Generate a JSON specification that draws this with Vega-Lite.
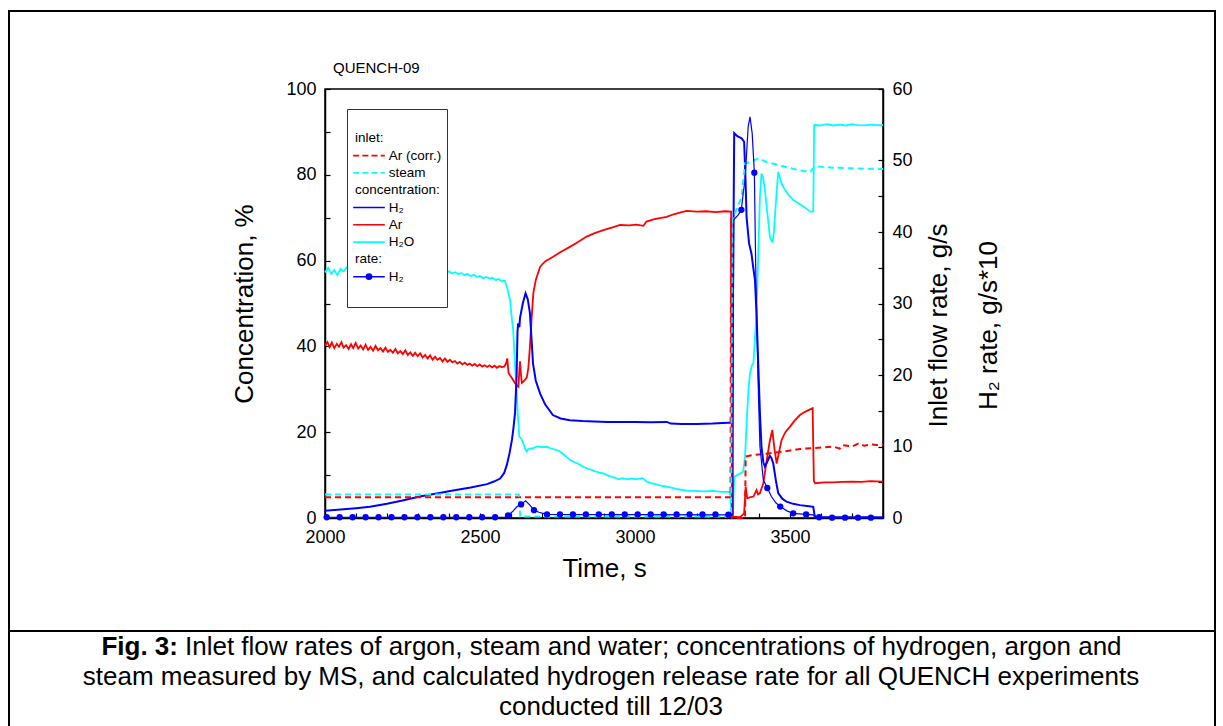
{
  "$schema": "https://vega.github.io/schema/vega-lite/v6.json",
  "width": 558,
  "height": 429,
  "autosize": {"type": "none"},
  "padding": {"left": 325, "top": 89, "right": 340, "bottom": 208},
  "background": "white",
  "config": {
    "view": {"stroke": "black", "strokeWidth": 1.5},
    "font": "Liberation Sans",
    "axis": {
      "grid": false,
      "domainColor": "black",
      "domainWidth": 1.5,
      "tickColor": "black",
      "tickWidth": 1.2,
      "tickSize": -5,
      "labelColor": "black",
      "labelFont": "Liberation Sans",
      "labelFontSize": 18,
      "labelOverlap": false,
      "titleFont": "Liberation Sans",
      "titleFontSize": 26,
      "titleFontWeight": "normal",
      "titleColor": "black"
    }
  },
  "datasets": {
    "conc": [
      {"t": 2000, "v": 57.2, "s": "H2O"}, {"t": 2010, "v": 58.3, "s": "H2O"}, {"t": 2020, "v": 56.9, "s": "H2O"}, {"t": 2030, "v": 57.8, "s": "H2O"}, {"t": 2040, "v": 56.6, "s": "H2O"}, {"t": 2050, "v": 58.1, "s": "H2O"}, {"t": 2060, "v": 57.5, "s": "H2O"}, {"t": 2070, "v": 58.4, "s": "H2O"}, {"t": 2080, "v": 57.1, "s": "H2O"}, {"t": 2090, "v": 57.9, "s": "H2O"}, {"t": 2100, "v": 57.3, "s": "H2O"}, {"t": 2110, "v": 58.2, "s": "H2O"}, {"t": 2120, "v": 57.0, "s": "H2O"}, {"t": 2130, "v": 57.6, "s": "H2O"}, {"t": 2140, "v": 58.3, "s": "H2O"}, {"t": 2150, "v": 57.2, "s": "H2O"}, {"t": 2160, "v": 57.8, "s": "H2O"}, {"t": 2170, "v": 57.0, "s": "H2O"}, {"t": 2180, "v": 58.0, "s": "H2O"}, {"t": 2190, "v": 57.4, "s": "H2O"}, {"t": 2200, "v": 57.9, "s": "H2O"}, {"t": 2210, "v": 57.1, "s": "H2O"}, {"t": 2220, "v": 57.7, "s": "H2O"}, {"t": 2230, "v": 57.3, "s": "H2O"}, {"t": 2240, "v": 58.1, "s": "H2O"}, {"t": 2250, "v": 57.2, "s": "H2O"}, {"t": 2260, "v": 57.6, "s": "H2O"}, {"t": 2270, "v": 56.9, "s": "H2O"}, {"t": 2280, "v": 57.8, "s": "H2O"}, {"t": 2290, "v": 57.3, "s": "H2O"}, {"t": 2300, "v": 57.6, "s": "H2O"}, {"t": 2310, "v": 57.0, "s": "H2O"}, {"t": 2320, "v": 57.7, "s": "H2O"}, {"t": 2330, "v": 57.2, "s": "H2O"}, {"t": 2340, "v": 57.5, "s": "H2O"}, {"t": 2350, "v": 56.9, "s": "H2O"}, {"t": 2360, "v": 57.6, "s": "H2O"}, {"t": 2370, "v": 57.1, "s": "H2O"}, {"t": 2380, "v": 57.8, "s": "H2O"}, {"t": 2390, "v": 57.2, "s": "H2O"}, {"t": 2400, "v": 57.5, "s": "H2O"}, {"t": 2410, "v": 57.0, "s": "H2O"}, {"t": 2420, "v": 57.3, "s": "H2O"}, {"t": 2430, "v": 56.8, "s": "H2O"}, {"t": 2440, "v": 57.1, "s": "H2O"}, {"t": 2450, "v": 56.6, "s": "H2O"}, {"t": 2460, "v": 56.9, "s": "H2O"}, {"t": 2470, "v": 56.4, "s": "H2O"}, {"t": 2480, "v": 56.7, "s": "H2O"}, {"t": 2490, "v": 56.2, "s": "H2O"}, {"t": 2500, "v": 56.4, "s": "H2O"}, {"t": 2510, "v": 55.9, "s": "H2O"}, {"t": 2520, "v": 56.2, "s": "H2O"}, {"t": 2530, "v": 55.8, "s": "H2O"}, {"t": 2540, "v": 56.0, "s": "H2O"}, {"t": 2550, "v": 55.5, "s": "H2O"}, {"t": 2560, "v": 55.7, "s": "H2O"}, {"t": 2570, "v": 55.2, "s": "H2O"}, {"t": 2580, "v": 55.3, "s": "H2O"}, {"t": 2588, "v": 53.5, "s": "H2O"}, {"t": 2592, "v": 52.4, "s": "H2O"}, {"t": 2597, "v": 50.8, "s": "H2O"}, {"t": 2602, "v": 47.0, "s": "H2O"}, {"t": 2607, "v": 43.8, "s": "H2O"}, {"t": 2612, "v": 37.0, "s": "H2O"}, {"t": 2618, "v": 29.8, "s": "H2O"}, {"t": 2622, "v": 24.0, "s": "H2O"}, {"t": 2627, "v": 19.0, "s": "H2O"}, {"t": 2633, "v": 18.5, "s": "H2O"}, {"t": 2640, "v": 17.4, "s": "H2O"}, {"t": 2645, "v": 16.3, "s": "H2O"}, {"t": 2650, "v": 15.5, "s": "H2O"}, {"t": 2655, "v": 16.0, "s": "H2O"}, {"t": 2662, "v": 16.2, "s": "H2O"}, {"t": 2672, "v": 16.3, "s": "H2O"}, {"t": 2685, "v": 16.7, "s": "H2O"}, {"t": 2700, "v": 16.5, "s": "H2O"}, {"t": 2715, "v": 16.6, "s": "H2O"}, {"t": 2730, "v": 16.2, "s": "H2O"}, {"t": 2745, "v": 15.9, "s": "H2O"}, {"t": 2758, "v": 15.5, "s": "H2O"}, {"t": 2770, "v": 14.8, "s": "H2O"}, {"t": 2780, "v": 14.2, "s": "H2O"}, {"t": 2790, "v": 13.6, "s": "H2O"}, {"t": 2801, "v": 13.1, "s": "H2O"}, {"t": 2815, "v": 12.7, "s": "H2O"}, {"t": 2830, "v": 12.1, "s": "H2O"}, {"t": 2844, "v": 11.6, "s": "H2O"}, {"t": 2860, "v": 11.2, "s": "H2O"}, {"t": 2875, "v": 10.8, "s": "H2O"}, {"t": 2885, "v": 10.6, "s": "H2O"}, {"t": 2898, "v": 10.4, "s": "H2O"}, {"t": 2910, "v": 10.0, "s": "H2O"}, {"t": 2925, "v": 9.6, "s": "H2O"}, {"t": 2935, "v": 9.4, "s": "H2O"}, {"t": 2946, "v": 9.0, "s": "H2O"}, {"t": 2960, "v": 9.3, "s": "H2O"}, {"t": 2975, "v": 9.0, "s": "H2O"}, {"t": 2990, "v": 9.2, "s": "H2O"}, {"t": 3005, "v": 9.0, "s": "H2O"}, {"t": 3020, "v": 9.3, "s": "H2O"}, {"t": 3027, "v": 9.2, "s": "H2O"}, {"t": 3037, "v": 8.5, "s": "H2O"}, {"t": 3050, "v": 8.2, "s": "H2O"}, {"t": 3065, "v": 7.9, "s": "H2O"}, {"t": 3080, "v": 7.6, "s": "H2O"}, {"t": 3095, "v": 7.4, "s": "H2O"}, {"t": 3102, "v": 7.3, "s": "H2O"}, {"t": 3120, "v": 7.0, "s": "H2O"}, {"t": 3140, "v": 6.7, "s": "H2O"}, {"t": 3167, "v": 6.4, "s": "H2O"}, {"t": 3190, "v": 6.3, "s": "H2O"}, {"t": 3220, "v": 6.2, "s": "H2O"}, {"t": 3250, "v": 6.3, "s": "H2O"}, {"t": 3280, "v": 6.1, "s": "H2O"}, {"t": 3306, "v": 6.1, "s": "H2O"}, {"t": 3312, "v": 1.1, "s": "H2O"}, {"t": 3316, "v": 1.0, "s": "H2O"}, {"t": 3320, "v": 9.6, "s": "H2O"}, {"t": 3340, "v": 10.4, "s": "H2O"}, {"t": 3349, "v": 10.8, "s": "H2O"}, {"t": 3355, "v": 14.3, "s": "H2O"}, {"t": 3360, "v": 22.0, "s": "H2O"}, {"t": 3366, "v": 30.0, "s": "H2O"}, {"t": 3371, "v": 33.7, "s": "H2O"}, {"t": 3377, "v": 35.5, "s": "H2O"}, {"t": 3382, "v": 36.1, "s": "H2O"}, {"t": 3387, "v": 42.0, "s": "H2O"}, {"t": 3392, "v": 47.7, "s": "H2O"}, {"t": 3397, "v": 60.0, "s": "H2O"}, {"t": 3403, "v": 74.9, "s": "H2O"}, {"t": 3408, "v": 80.3, "s": "H2O"}, {"t": 3413, "v": 79.5, "s": "H2O"}, {"t": 3419, "v": 76.5, "s": "H2O"}, {"t": 3427, "v": 71.0, "s": "H2O"}, {"t": 3435, "v": 65.6, "s": "H2O"}, {"t": 3440, "v": 64.6, "s": "H2O"}, {"t": 3444, "v": 64.4, "s": "H2O"}, {"t": 3448, "v": 66.5, "s": "H2O"}, {"t": 3452, "v": 71.0, "s": "H2O"}, {"t": 3457, "v": 76.0, "s": "H2O"}, {"t": 3462, "v": 80.7, "s": "H2O"}, {"t": 3470, "v": 78.5, "s": "H2O"}, {"t": 3478, "v": 77.2, "s": "H2O"}, {"t": 3495, "v": 75.3, "s": "H2O"}, {"t": 3511, "v": 74.1, "s": "H2O"}, {"t": 3528, "v": 73.3, "s": "H2O"}, {"t": 3543, "v": 72.6, "s": "H2O"}, {"t": 3555, "v": 72.0, "s": "H2O"}, {"t": 3565, "v": 71.4, "s": "H2O"}, {"t": 3575, "v": 71.4, "s": "H2O"}, {"t": 3578, "v": 91.6, "s": "H2O"}, {"t": 3600, "v": 91.5, "s": "H2O"}, {"t": 3620, "v": 91.8, "s": "H2O"}, {"t": 3640, "v": 91.5, "s": "H2O"}, {"t": 3660, "v": 91.7, "s": "H2O"}, {"t": 3680, "v": 91.5, "s": "H2O"}, {"t": 3700, "v": 91.8, "s": "H2O"}, {"t": 3720, "v": 91.6, "s": "H2O"}, {"t": 3740, "v": 91.5, "s": "H2O"}, {"t": 3760, "v": 91.7, "s": "H2O"}, {"t": 3780, "v": 91.6, "s": "H2O"}, {"t": 3800, "v": 91.6, "s": "H2O"},
      {"t": 2000, "v": 40.2, "s": "Ar"}, {"t": 2008, "v": 41.0, "s": "Ar"}, {"t": 2015, "v": 39.8, "s": "Ar"}, {"t": 2022, "v": 40.9, "s": "Ar"}, {"t": 2030, "v": 39.6, "s": "Ar"}, {"t": 2038, "v": 40.6, "s": "Ar"}, {"t": 2045, "v": 39.9, "s": "Ar"}, {"t": 2053, "v": 41.0, "s": "Ar"}, {"t": 2060, "v": 39.7, "s": "Ar"}, {"t": 2068, "v": 40.3, "s": "Ar"}, {"t": 2076, "v": 39.4, "s": "Ar"}, {"t": 2084, "v": 40.5, "s": "Ar"}, {"t": 2091, "v": 39.6, "s": "Ar"}, {"t": 2099, "v": 40.8, "s": "Ar"}, {"t": 2107, "v": 39.5, "s": "Ar"}, {"t": 2115, "v": 40.2, "s": "Ar"}, {"t": 2123, "v": 39.3, "s": "Ar"}, {"t": 2131, "v": 40.4, "s": "Ar"}, {"t": 2139, "v": 39.2, "s": "Ar"}, {"t": 2147, "v": 39.9, "s": "Ar"}, {"t": 2155, "v": 39.0, "s": "Ar"}, {"t": 2163, "v": 40.1, "s": "Ar"}, {"t": 2171, "v": 39.1, "s": "Ar"}, {"t": 2179, "v": 39.6, "s": "Ar"}, {"t": 2187, "v": 38.8, "s": "Ar"}, {"t": 2195, "v": 39.7, "s": "Ar"}, {"t": 2203, "v": 38.7, "s": "Ar"}, {"t": 2211, "v": 39.2, "s": "Ar"}, {"t": 2219, "v": 38.5, "s": "Ar"}, {"t": 2227, "v": 39.4, "s": "Ar"}, {"t": 2235, "v": 38.4, "s": "Ar"}, {"t": 2243, "v": 38.9, "s": "Ar"}, {"t": 2251, "v": 38.2, "s": "Ar"}, {"t": 2259, "v": 39.1, "s": "Ar"}, {"t": 2267, "v": 38.0, "s": "Ar"}, {"t": 2275, "v": 38.6, "s": "Ar"}, {"t": 2283, "v": 37.8, "s": "Ar"}, {"t": 2291, "v": 38.5, "s": "Ar"}, {"t": 2299, "v": 37.7, "s": "Ar"}, {"t": 2307, "v": 38.4, "s": "Ar"}, {"t": 2315, "v": 37.4, "s": "Ar"}, {"t": 2323, "v": 38.0, "s": "Ar"}, {"t": 2331, "v": 37.2, "s": "Ar"}, {"t": 2339, "v": 37.9, "s": "Ar"}, {"t": 2347, "v": 36.9, "s": "Ar"}, {"t": 2355, "v": 37.6, "s": "Ar"}, {"t": 2363, "v": 36.9, "s": "Ar"}, {"t": 2371, "v": 37.3, "s": "Ar"}, {"t": 2379, "v": 36.5, "s": "Ar"}, {"t": 2387, "v": 37.2, "s": "Ar"}, {"t": 2395, "v": 36.4, "s": "Ar"}, {"t": 2403, "v": 36.9, "s": "Ar"}, {"t": 2411, "v": 36.3, "s": "Ar"}, {"t": 2419, "v": 36.6, "s": "Ar"}, {"t": 2427, "v": 36.0, "s": "Ar"}, {"t": 2435, "v": 36.4, "s": "Ar"}, {"t": 2443, "v": 35.8, "s": "Ar"}, {"t": 2451, "v": 36.2, "s": "Ar"}, {"t": 2459, "v": 35.7, "s": "Ar"}, {"t": 2467, "v": 36.0, "s": "Ar"}, {"t": 2475, "v": 35.5, "s": "Ar"}, {"t": 2483, "v": 35.9, "s": "Ar"}, {"t": 2491, "v": 35.4, "s": "Ar"}, {"t": 2499, "v": 35.8, "s": "Ar"}, {"t": 2507, "v": 35.3, "s": "Ar"}, {"t": 2515, "v": 35.6, "s": "Ar"}, {"t": 2523, "v": 35.2, "s": "Ar"}, {"t": 2531, "v": 35.6, "s": "Ar"}, {"t": 2539, "v": 35.1, "s": "Ar"}, {"t": 2547, "v": 35.5, "s": "Ar"}, {"t": 2555, "v": 35.0, "s": "Ar"}, {"t": 2563, "v": 35.4, "s": "Ar"}, {"t": 2570, "v": 35.2, "s": "Ar"}, {"t": 2578, "v": 35.3, "s": "Ar"}, {"t": 2584, "v": 36.0, "s": "Ar"}, {"t": 2588, "v": 37.2, "s": "Ar"}, {"t": 2592, "v": 33.8, "s": "Ar"}, {"t": 2597, "v": 33.2, "s": "Ar"}, {"t": 2605, "v": 32.4, "s": "Ar"}, {"t": 2613, "v": 31.4, "s": "Ar"}, {"t": 2620, "v": 30.8, "s": "Ar"}, {"t": 2624, "v": 30.6, "s": "Ar"}, {"t": 2627, "v": 34.5, "s": "Ar"}, {"t": 2629, "v": 36.5, "s": "Ar"}, {"t": 2632, "v": 33.5, "s": "Ar"}, {"t": 2635, "v": 31.5, "s": "Ar"}, {"t": 2643, "v": 32.0, "s": "Ar"}, {"t": 2651, "v": 32.8, "s": "Ar"}, {"t": 2656, "v": 35.0, "s": "Ar"}, {"t": 2661, "v": 39.9, "s": "Ar"}, {"t": 2666, "v": 46.0, "s": "Ar"}, {"t": 2672, "v": 52.4, "s": "Ar"}, {"t": 2680, "v": 55.5, "s": "Ar"}, {"t": 2694, "v": 58.6, "s": "Ar"}, {"t": 2710, "v": 59.8, "s": "Ar"}, {"t": 2736, "v": 60.9, "s": "Ar"}, {"t": 2760, "v": 62.0, "s": "Ar"}, {"t": 2790, "v": 63.2, "s": "Ar"}, {"t": 2815, "v": 64.3, "s": "Ar"}, {"t": 2844, "v": 65.6, "s": "Ar"}, {"t": 2870, "v": 66.4, "s": "Ar"}, {"t": 2898, "v": 67.1, "s": "Ar"}, {"t": 2925, "v": 67.7, "s": "Ar"}, {"t": 2952, "v": 68.3, "s": "Ar"}, {"t": 2980, "v": 68.2, "s": "Ar"}, {"t": 3005, "v": 68.4, "s": "Ar"}, {"t": 3027, "v": 68.1, "s": "Ar"}, {"t": 3037, "v": 69.1, "s": "Ar"}, {"t": 3060, "v": 69.6, "s": "Ar"}, {"t": 3080, "v": 69.9, "s": "Ar"}, {"t": 3102, "v": 70.2, "s": "Ar"}, {"t": 3125, "v": 70.8, "s": "Ar"}, {"t": 3150, "v": 71.3, "s": "Ar"}, {"t": 3167, "v": 71.6, "s": "Ar"}, {"t": 3200, "v": 71.4, "s": "Ar"}, {"t": 3230, "v": 71.5, "s": "Ar"}, {"t": 3260, "v": 71.3, "s": "Ar"}, {"t": 3290, "v": 71.5, "s": "Ar"}, {"t": 3310, "v": 71.4, "s": "Ar"}, {"t": 3314, "v": 0.3, "s": "Ar"}, {"t": 3339, "v": 0.2, "s": "Ar"}, {"t": 3352, "v": 1.1, "s": "Ar"}, {"t": 3357, "v": 7.3, "s": "Ar"}, {"t": 3362, "v": 4.6, "s": "Ar"}, {"t": 3370, "v": 4.8, "s": "Ar"}, {"t": 3382, "v": 5.0, "s": "Ar"}, {"t": 3392, "v": 6.5, "s": "Ar"}, {"t": 3397, "v": 5.5, "s": "Ar"}, {"t": 3403, "v": 5.8, "s": "Ar"}, {"t": 3414, "v": 8.1, "s": "Ar"}, {"t": 3425, "v": 13.5, "s": "Ar"}, {"t": 3435, "v": 18.0, "s": "Ar"}, {"t": 3443, "v": 20.5, "s": "Ar"}, {"t": 3450, "v": 16.0, "s": "Ar"}, {"t": 3457, "v": 12.7, "s": "Ar"}, {"t": 3465, "v": 15.5, "s": "Ar"}, {"t": 3473, "v": 18.2, "s": "Ar"}, {"t": 3485, "v": 20.0, "s": "Ar"}, {"t": 3500, "v": 21.3, "s": "Ar"}, {"t": 3515, "v": 22.7, "s": "Ar"}, {"t": 3532, "v": 24.0, "s": "Ar"}, {"t": 3550, "v": 24.8, "s": "Ar"}, {"t": 3573, "v": 25.6, "s": "Ar"}, {"t": 3577, "v": 8.6, "s": "Ar"}, {"t": 3581, "v": 8.1, "s": "Ar"}, {"t": 3610, "v": 8.3, "s": "Ar"}, {"t": 3640, "v": 8.3, "s": "Ar"}, {"t": 3670, "v": 8.4, "s": "Ar"}, {"t": 3700, "v": 8.5, "s": "Ar"}, {"t": 3730, "v": 8.4, "s": "Ar"}, {"t": 3760, "v": 8.6, "s": "Ar"}, {"t": 3800, "v": 8.5, "s": "Ar"},
      {"t": 2000, "v": 1.7, "s": "H2"}, {"t": 2050, "v": 2.0, "s": "H2"}, {"t": 2100, "v": 2.3, "s": "H2"}, {"t": 2145, "v": 2.6, "s": "H2"}, {"t": 2200, "v": 3.3, "s": "H2"}, {"t": 2250, "v": 4.1, "s": "H2"}, {"t": 2306, "v": 5.0, "s": "H2"}, {"t": 2360, "v": 5.7, "s": "H2"}, {"t": 2413, "v": 6.4, "s": "H2"}, {"t": 2470, "v": 7.1, "s": "H2"}, {"t": 2523, "v": 7.9, "s": "H2"}, {"t": 2545, "v": 8.5, "s": "H2"}, {"t": 2565, "v": 9.2, "s": "H2"}, {"t": 2578, "v": 10.5, "s": "H2"}, {"t": 2587, "v": 12.5, "s": "H2"}, {"t": 2595, "v": 15.0, "s": "H2"}, {"t": 2603, "v": 18.2, "s": "H2"}, {"t": 2608, "v": 21.0, "s": "H2"}, {"t": 2613, "v": 24.5, "s": "H2"}, {"t": 2618, "v": 33.0, "s": "H2"}, {"t": 2621, "v": 43.5, "s": "H2"}, {"t": 2623, "v": 45.4, "s": "H2"}, {"t": 2627, "v": 44.5, "s": "H2"}, {"t": 2629, "v": 46.6, "s": "H2"}, {"t": 2638, "v": 50.0, "s": "H2"}, {"t": 2647, "v": 52.4, "s": "H2"}, {"t": 2654, "v": 51.0, "s": "H2"}, {"t": 2661, "v": 47.8, "s": "H2"}, {"t": 2666, "v": 42.0, "s": "H2"}, {"t": 2671, "v": 36.0, "s": "H2"}, {"t": 2680, "v": 32.0, "s": "H2"}, {"t": 2694, "v": 29.0, "s": "H2"}, {"t": 2710, "v": 26.5, "s": "H2"}, {"t": 2735, "v": 24.0, "s": "H2"}, {"t": 2760, "v": 23.2, "s": "H2"}, {"t": 2790, "v": 22.8, "s": "H2"}, {"t": 2830, "v": 22.6, "s": "H2"}, {"t": 2870, "v": 22.5, "s": "H2"}, {"t": 2910, "v": 22.4, "s": "H2"}, {"t": 2952, "v": 22.4, "s": "H2"}, {"t": 3000, "v": 22.4, "s": "H2"}, {"t": 3050, "v": 22.3, "s": "H2"}, {"t": 3103, "v": 22.4, "s": "H2"}, {"t": 3115, "v": 22.0, "s": "H2"}, {"t": 3150, "v": 21.9, "s": "H2"}, {"t": 3200, "v": 21.9, "s": "H2"}, {"t": 3250, "v": 22.0, "s": "H2"}, {"t": 3300, "v": 22.2, "s": "H2"}, {"t": 3313, "v": 22.2, "s": "H2"}, {"t": 3316, "v": 50.0, "s": "H2"}, {"t": 3320, "v": 89.7, "s": "H2"}, {"t": 3330, "v": 89.0, "s": "H2"}, {"t": 3344, "v": 88.5, "s": "H2"}, {"t": 3352, "v": 87.7, "s": "H2"}, {"t": 3356, "v": 80.0, "s": "H2"}, {"t": 3360, "v": 70.0, "s": "H2"}, {"t": 3368, "v": 64.0, "s": "H2"}, {"t": 3376, "v": 61.5, "s": "H2"}, {"t": 3381, "v": 58.6, "s": "H2"}, {"t": 3387, "v": 55.5, "s": "H2"}, {"t": 3392, "v": 47.7, "s": "H2"}, {"t": 3398, "v": 35.0, "s": "H2"}, {"t": 3403, "v": 24.4, "s": "H2"}, {"t": 3408, "v": 16.6, "s": "H2"}, {"t": 3414, "v": 13.0, "s": "H2"}, {"t": 3419, "v": 12.0, "s": "H2"}, {"t": 3426, "v": 13.0, "s": "H2"}, {"t": 3435, "v": 14.5, "s": "H2"}, {"t": 3440, "v": 14.0, "s": "H2"}, {"t": 3446, "v": 12.7, "s": "H2"}, {"t": 3455, "v": 8.5, "s": "H2"}, {"t": 3462, "v": 5.8, "s": "H2"}, {"t": 3475, "v": 4.5, "s": "H2"}, {"t": 3489, "v": 3.8, "s": "H2"}, {"t": 3510, "v": 3.3, "s": "H2"}, {"t": 3532, "v": 3.0, "s": "H2"}, {"t": 3555, "v": 2.8, "s": "H2"}, {"t": 3575, "v": 2.6, "s": "H2"}, {"t": 3579, "v": 0.7, "s": "H2"}, {"t": 3583, "v": 0.2, "s": "H2"}, {"t": 3700, "v": 0.2, "s": "H2"}, {"t": 3800, "v": 0.2, "s": "H2"}
    ],
    "flow": [
      {"t": 2000, "v": 2.9, "s": "Ar_in"}, {"t": 3308, "v": 2.9, "s": "Ar_in"}, {"t": 3310, "v": 42.0, "s": "Ar_in"}, {"t": 3313, "v": 0.0, "s": "Ar_in"}, {"t": 3355, "v": 0.0, "s": "Ar_in"}, {"t": 3357, "v": 8.6, "s": "Ar_in"}, {"t": 3380, "v": 8.8, "s": "Ar_in"}, {"t": 3425, "v": 9.0, "s": "Ar_in"}, {"t": 3480, "v": 9.3, "s": "Ar_in"}, {"t": 3532, "v": 9.65, "s": "Ar_in"}, {"t": 3580, "v": 9.8, "s": "Ar_in"}, {"t": 3640, "v": 10.0, "s": "Ar_in"}, {"t": 3660, "v": 9.7, "s": "Ar_in"}, {"t": 3670, "v": 10.2, "s": "Ar_in"}, {"t": 3700, "v": 10.0, "s": "Ar_in"}, {"t": 3720, "v": 10.4, "s": "Ar_in"}, {"t": 3740, "v": 10.1, "s": "Ar_in"}, {"t": 3760, "v": 10.3, "s": "Ar_in"}, {"t": 3780, "v": 10.2, "s": "Ar_in"}, {"t": 3800, "v": 10.3, "s": "Ar_in"},
      {"t": 2000, "v": 3.3, "s": "steam_in"}, {"t": 2625, "v": 3.3, "s": "steam_in"}, {"t": 2630, "v": 0.2, "s": "steam_in"}, {"t": 3310, "v": 0.2, "s": "steam_in"}, {"t": 3316, "v": 41.7, "s": "steam_in"}, {"t": 3330, "v": 43.5, "s": "steam_in"}, {"t": 3344, "v": 44.9, "s": "steam_in"}, {"t": 3355, "v": 49.6, "s": "steam_in"}, {"t": 3371, "v": 49.8, "s": "steam_in"}, {"t": 3398, "v": 50.3, "s": "steam_in"}, {"t": 3425, "v": 49.8, "s": "steam_in"}, {"t": 3450, "v": 49.5, "s": "steam_in"}, {"t": 3478, "v": 49.2, "s": "steam_in"}, {"t": 3505, "v": 48.9, "s": "steam_in"}, {"t": 3532, "v": 48.6, "s": "steam_in"}, {"t": 3565, "v": 48.4, "s": "steam_in"}, {"t": 3581, "v": 49.2, "s": "steam_in"}, {"t": 3610, "v": 49.1, "s": "steam_in"}, {"t": 3640, "v": 49.0, "s": "steam_in"}, {"t": 3700, "v": 48.9, "s": "steam_in"}, {"t": 3800, "v": 48.8, "s": "steam_in"},
      {"t": 2000, "v": 0.1, "s": "rate"}, {"t": 2580, "v": 0.1, "s": "rate"}, {"t": 2590, "v": 0.35, "s": "rate"}, {"t": 2605, "v": 0.9, "s": "rate"}, {"t": 2620, "v": 1.6, "s": "rate"}, {"t": 2632, "v": 1.9, "s": "rate"}, {"t": 2647, "v": 2.4, "s": "rate"}, {"t": 2661, "v": 1.8, "s": "rate"}, {"t": 2674, "v": 1.1, "s": "rate"}, {"t": 2690, "v": 0.8, "s": "rate"}, {"t": 2716, "v": 0.5, "s": "rate"}, {"t": 3313, "v": 0.45, "s": "rate"}, {"t": 3316, "v": 0.4, "s": "rate"}, {"t": 3318, "v": 41.7, "s": "rate"}, {"t": 3333, "v": 42.4, "s": "rate"}, {"t": 3343, "v": 43.1, "s": "rate"}, {"t": 3349, "v": 45.4, "s": "rate"}, {"t": 3355, "v": 47.3, "s": "rate"}, {"t": 3365, "v": 54.7, "s": "rate"}, {"t": 3371, "v": 56.1, "s": "rate"}, {"t": 3378, "v": 53.8, "s": "rate"}, {"t": 3385, "v": 48.3, "s": "rate"}, {"t": 3390, "v": 33.3, "s": "rate"}, {"t": 3397, "v": 19.3, "s": "rate"}, {"t": 3403, "v": 10.0, "s": "rate"}, {"t": 3414, "v": 5.3, "s": "rate"}, {"t": 3427, "v": 4.2, "s": "rate"}, {"t": 3440, "v": 3.0, "s": "rate"}, {"t": 3455, "v": 2.1, "s": "rate"}, {"t": 3469, "v": 1.6, "s": "rate"}, {"t": 3490, "v": 1.0, "s": "rate"}, {"t": 3510, "v": 0.65, "s": "rate"}, {"t": 3552, "v": 0.5, "s": "rate"}, {"t": 3575, "v": 0.45, "s": "rate"}, {"t": 3580, "v": 0.1, "s": "rate"}, {"t": 3594, "v": 0.1, "s": "rate"}, {"t": 3800, "v": 0.05, "s": "rate"}
    ],
    "dots": [
      {"t": 2005.5, "v": 0.1}, {"t": 2047.3, "v": 0.1}, {"t": 2089.1, "v": 0.1}, {"t": 2130.9, "v": 0.1}, {"t": 2172.7, "v": 0.1}, {"t": 2214.5, "v": 0.1}, {"t": 2256.3, "v": 0.1}, {"t": 2298.1, "v": 0.1}, {"t": 2339.9, "v": 0.1}, {"t": 2381.7, "v": 0.1}, {"t": 2423.5, "v": 0.1}, {"t": 2465.3, "v": 0.1}, {"t": 2507.1, "v": 0.1}, {"t": 2548.9, "v": 0.1}, {"t": 2590.7, "v": 0.35}, {"t": 2632.5, "v": 1.9}, {"t": 2674.3, "v": 1.1}, {"t": 2716.1, "v": 0.5}, {"t": 2757.9, "v": 0.5}, {"t": 2799.7, "v": 0.5}, {"t": 2841.5, "v": 0.5}, {"t": 2883.3, "v": 0.5}, {"t": 2925.1, "v": 0.5}, {"t": 2966.9, "v": 0.5}, {"t": 3008.7, "v": 0.5}, {"t": 3050.5, "v": 0.5}, {"t": 3092.3, "v": 0.5}, {"t": 3134.1, "v": 0.5}, {"t": 3175.9, "v": 0.5}, {"t": 3217.7, "v": 0.5}, {"t": 3259.5, "v": 0.5}, {"t": 3301.3, "v": 0.45}, {"t": 3343.1, "v": 43.1}, {"t": 3384.9, "v": 48.3}, {"t": 3426.7, "v": 4.2}, {"t": 3468.5, "v": 1.6}, {"t": 3510.3, "v": 0.65}, {"t": 3552.1, "v": 0.5}, {"t": 3593.9, "v": 0.1}, {"t": 3635.7, "v": 0.05}, {"t": 3677.5, "v": 0.05}, {"t": 3719.3, "v": 0.05}, {"t": 3761.1, "v": 0.05}
    ],
    "entries": [
      {"entry": "top"}, {"entry": "inlet:"}, {"entry": "Ar (corr.)"}, {"entry": "steam"}, {"entry": "concentration:"}, {"entry": "H2c"}, {"entry": "Ar"}, {"entry": "H2O"}, {"entry": "rate:"}, {"entry": "H2r"}, {"entry": "bottom"}
    ],
    "one": [{"k": 1}]
  },
  "layer": [
    {
      "data": {"name": "conc"},
      "encoding": {
        "x": {"field": "t", "type": "quantitative", "scale": {"domain": [2000, 3800], "nice": false, "zero": false},
              "axis": {"values": [2000, 2100, 2200, 2300, 2400, 2500, 2600, 2700, 2800, 2900, 3000, 3100, 3200, 3300, 3400, 3500, 3600, 3700, 3800],
                       "labelExpr": "datum.value % 500 == 0 ? datum.label : ''", "format": "d", "labelOverlap": false, "labelPadding": 15, "title": "Time, s", "titlePadding": 9, "labelFlush": false}},
        "y": {"field": "v", "type": "quantitative", "scale": {"domain": [0, 100], "nice": false},
              "axis": {"orient": "left", "values": [0, 10, 20, 30, 40, 50, 60, 70, 80, 90, 100], "labelExpr": "datum.value % 20 == 0 ? datum.label : ''", "labelOverlap": false,
                       "labelPadding": 14, "title": "Concentration, %", "titlePadding": 28, "labelFlush": false}}
      },
      "layer": [
        {"transform": [{"filter": "datum.s == 'H2O'"}], "mark": {"type": "line", "color": "#00FFFF", "strokeWidth": 1.8}},
        {"transform": [{"filter": "datum.s == 'Ar'"}], "mark": {"type": "line", "color": "#FF0000", "strokeWidth": 1.8}},
        {"transform": [{"filter": "datum.s == 'H2'"}], "mark": {"type": "line", "color": "#0000FF", "strokeWidth": 2}}
      ]
    },
    {
      "encoding": {
        "x": {"field": "t", "type": "quantitative", "scale": {"domain": [2000, 3800], "nice": false, "zero": false},
              "axis": {"values": [2000, 2100, 2200, 2300, 2400, 2500, 2600, 2700, 2800, 2900, 3000, 3100, 3200, 3300, 3400, 3500, 3600, 3700, 3800],
                       "labelExpr": "datum.value % 500 == 0 ? datum.label : ''", "format": "d", "labelOverlap": false, "labelPadding": 15, "title": "Time, s", "titlePadding": 9, "labelFlush": false}},
        "y": {"field": "v", "type": "quantitative", "scale": {"domain": [0, 60], "nice": false},
              "axis": {"orient": "right", "values": [0, 5, 10, 15, 20, 25, 30, 35, 40, 45, 50, 55, 60], "labelExpr": "datum.value % 10 == 0 ? datum.label : ''", "labelOverlap": false,
                       "labelPadding": 14, "title": ["Inlet flow rate, g/s", "H₂ rate, g/s*10"], "titleAngle": 270, "titleLineHeight": 50, "titlePadding": -11, "titleY": 236, "labelFlush": false}}
      },
      "layer": [
        {"data": {"name": "flow"}, "transform": [{"filter": "datum.s == 'Ar_in'"}], "mark": {"type": "line", "color": "#FF0000", "strokeWidth": 2, "strokeDash": [6, 4]}},
        {"data": {"name": "flow"}, "transform": [{"filter": "datum.s == 'steam_in'"}], "mark": {"type": "line", "color": "#00FFFF", "strokeWidth": 2, "strokeDash": [6, 4]}},
        {"data": {"name": "flow"}, "transform": [{"filter": "datum.s == 'rate'"}], "mark": {"type": "line", "color": "#0000FF", "strokeWidth": 1.2}},
        {"data": {"name": "dots"}, "mark": {"type": "point", "filled": true, "color": "#0000FF", "size": 40, "opacity": 1}}
      ]
    },
    {
      "data": {"name": "entries"},
      "mark": {"type": "point", "filled": false, "opacity": 0},
      "encoding": {
        "color": {"field": "entry", "type": "nominal",
          "scale": {"domain": ["top", "inlet:", "Ar (corr.)", "steam", "concentration:", "H2c", "Ar", "H2O", "rate:", "H2r", "bottom"],
                    "range": ["white", "white", "#FF0000", "#00FFFF", "white", "#0000FF", "#FF0000", "#00FFFF", "white", "#0000FF", "white"]},
          "legend": {"title": null, "orient": "none", "legendX": 22, "legendY": 20, "padding": 5, "strokeColor": "#333333", "fillColor": "white",
                     "symbolSize": 1000, "symbolStrokeWidth": 1.6, "symbolOpacity": 1, "labelFontSize": 13.5, "labelFont": "Liberation Sans", "labelColor": "black", "labelOffset": -31, "rowPadding": 3.3, "clipHeight": 14,
                     "labelExpr": "(datum.value == 'inlet:' || datum.value == 'concentration:' || datum.value == 'rate:') ? datum.value : (datum.value == 'top' || datum.value == 'bottom') ? '' : '\u200b\u00a0\u00a0\u00a0\u00a0\u00a0\u00a0\u00a0\u00a0\u00a0' + ((datum.value == 'H2c' || datum.value == 'H2r') ? 'H₂' : datum.value == 'H2O' ? 'H₂O' : datum.value)"}},
        "shape": {"field": "entry", "type": "nominal",
          "scale": {"domain": ["top", "inlet:", "Ar (corr.)", "steam", "concentration:", "H2c", "Ar", "H2O", "rate:", "H2r", "bottom"],
                    "range": ["M0,0", "M0,0", "M-1,0H-0.62M-0.42,0H-0.04M0.16,0H0.54M0.74,0H1", "M-1,0H-0.62M-0.42,0H-0.04M0.16,0H0.54M0.74,0H1", "M0,0", "M-1,0H1", "M-1,0H1", "M-1,0H1", "M0,0", "M-1,0H1M0.16,0A0.16,0.16 0 1 1 -0.16,0A0.16,0.16 0 1 1 0.16,0M0.08,0A0.08,0.08 0 1 1 -0.08,0A0.08,0.08 0 1 1 0.08,0", "M0,0"]},
          "legend": {"title": null, "orient": "none", "legendX": 22, "legendY": 20, "padding": 5, "strokeColor": "#333333", "fillColor": "white",
                     "symbolSize": 1000, "symbolStrokeWidth": 1.6, "symbolOpacity": 1, "labelFontSize": 13.5, "labelFont": "Liberation Sans", "labelColor": "black", "labelOffset": -31, "rowPadding": 3.3, "clipHeight": 14,
                     "labelExpr": "(datum.value == 'inlet:' || datum.value == 'concentration:' || datum.value == 'rate:') ? datum.value : (datum.value == 'top' || datum.value == 'bottom') ? '' : '\u200b\u00a0\u00a0\u00a0\u00a0\u00a0\u00a0\u00a0\u00a0\u00a0' + ((datum.value == 'H2c' || datum.value == 'H2r') ? 'H₂' : datum.value == 'H2O' ? 'H₂O' : datum.value)"}}
      }
    },
    {
      "data": {"name": "one"},
      "layer": [
        {"mark": {"type": "rect", "fill": null, "filled": false, "stroke": "black", "strokeWidth": 2},
         "encoding": {"x": {"value": -316}, "x2": {"value": 890}, "y": {"value": -78}, "y2": {"value": 660}}},
        {"mark": {"type": "rule", "stroke": "black", "strokeWidth": 2},
         "encoding": {"x": {"value": -316}, "x2": {"value": 890}, "y": {"value": 542}}},
        {"mark": {"type": "text", "align": "left", "baseline": "middle", "fontSize": 15, "font": "Liberation Sans", "color": "black"},
         "encoding": {"x": {"value": 8}, "y": {"value": -21}, "text": {"value": "QUENCH-09"}}},
        {"mark": {"type": "text", "align": "right", "baseline": "middle", "fontSize": 26, "fontWeight": "bold", "font": "Liberation Sans", "color": "black"},
         "encoding": {"x": {"value": -147}, "y": {"value": 558}, "text": {"value": "Fig. 3:"}}},
        {"mark": {"type": "text", "align": "left", "baseline": "middle", "fontSize": 26, "font": "Liberation Sans", "color": "black"},
         "encoding": {"x": {"value": -140}, "y": {"value": 558}, "text": {"value": "Inlet flow rates of argon, steam and water; concentrations of hydrogen, argon and"}}},
        {"mark": {"type": "text", "align": "center", "baseline": "middle", "fontSize": 26, "font": "Liberation Sans", "color": "black"},
         "encoding": {"x": {"value": 286}, "y": {"value": 588}, "text": {"value": "steam measured by MS, and calculated hydrogen release rate for all QUENCH experiments"}}},
        {"mark": {"type": "text", "align": "center", "baseline": "middle", "fontSize": 26, "font": "Liberation Sans", "color": "black"},
         "encoding": {"x": {"value": 286}, "y": {"value": 618}, "text": {"value": "conducted till 12/03"}}}
      ]
    }
  ],
  "resolve": {"scale": {"y": "independent"}}
}
